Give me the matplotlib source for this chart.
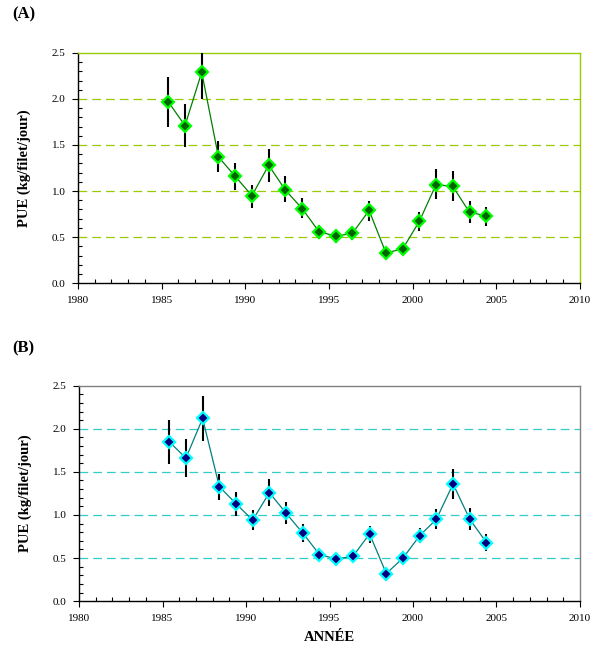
import matplotlib
matplotlib.use("Agg")
import matplotlib.pyplot as plt
import numpy as np
from matplotlib.ticker import MultipleLocator, FormatStrFormatter

plt.rcParams['font.family'] = ['Liberation Serif', 'DejaVu Serif']

# Data
years = np.arange(1985, 2005)

pue_a = [1.97, 1.71, 2.29, 1.37, 1.16, 0.95, 1.28, 1.01, 0.81, 0.56,
         0.51, 0.54, 0.79, 0.33, 0.37, 0.67, 1.07, 1.05, 0.77, 0.73]
low_a = [1.70, 1.48, 2.00, 1.21, 1.01, 0.82, 1.10, 0.88, 0.71, 0.48,
         0.44, 0.47, 0.68, 0.26, 0.31, 0.57, 0.91, 0.89, 0.65, 0.62]
high_a = [2.24, 1.94, 2.54, 1.54, 1.30, 1.07, 1.46, 1.16, 0.92, 0.63,
          0.57, 0.61, 0.89, 0.38, 0.43, 0.77, 1.24, 1.22, 0.89, 0.83]

pue_b = [1.85, 1.66, 2.12, 1.33, 1.13, 0.94, 1.26, 1.02, 0.79, 0.54,
         0.49, 0.52, 0.78, 0.32, 0.50, 0.76, 0.95, 1.36, 0.95, 0.68]
low_b = [1.59, 1.44, 1.86, 1.17, 0.99, 0.82, 1.10, 0.89, 0.69, 0.47,
         0.43, 0.46, 0.67, 0.27, 0.44, 0.67, 0.84, 1.18, 0.83, 0.58]
high_b = [2.10, 1.88, 2.38, 1.48, 1.27, 1.06, 1.42, 1.15, 0.89, 0.61,
          0.55, 0.59, 0.87, 0.375, 0.56, 0.85, 1.07, 1.53, 1.08, 0.78]

x_pos = years + 0.4  # points sit inside each year


def draw_panel(ax, pue, low, high, line_col, face_col, edge_col, grid_col, frame_col):
    pue = np.array(pue)
    yerr = [pue - np.array(low), np.array(high) - pue]
    ax.errorbar(x_pos, pue, yerr=yerr, fmt='none', ecolor='black',
                elinewidth=1.5, capsize=0, zorder=3)
    ax.plot(x_pos, pue, color=line_col, linewidth=0.9, marker='D',
            markersize=6.3, markerfacecolor=face_col, markeredgecolor=edge_col,
            markeredgewidth=1.6, zorder=4)

    for g in [0.5, 1.0, 1.5, 2.0]:
        ax.axhline(g, color=grid_col, linewidth=0.9, dashes=(7, 4), zorder=1)

    ax.set_xlim(1980, 2010)
    ax.set_ylim(0, 2.5)
    ax.xaxis.set_major_locator(MultipleLocator(5))
    ax.xaxis.set_minor_locator(MultipleLocator(1))
    ax.yaxis.set_major_locator(MultipleLocator(0.5))
    ax.yaxis.set_minor_locator(MultipleLocator(0.1))
    ax.yaxis.set_major_formatter(FormatStrFormatter('%.1f'))
    ax.tick_params(which='major', direction='out', length=4, width=0.8,
                   labelsize=8)
    ax.tick_params(axis='x', which='major', pad=5)
    ax.tick_params(axis='y', which='major', pad=5)
    ax.tick_params(which='minor', direction='in', length=3, width=0.8)

    for s in ['left', 'bottom']:
        ax.spines[s].set_color('black')
        ax.spines[s].set_linewidth(1.0)
    for s in ['top', 'right']:
        ax.spines[s].set_color(frame_col)
        ax.spines[s].set_linewidth(1.0)

    ax.set_ylabel('PUE (kg/filet/jour)', fontsize=10.5, fontweight='bold',
                  labelpad=15)


fig = plt.figure(figsize=(5.9, 6.45), dpi=100)

ax1 = fig.add_axes([0.132, 0.561, 0.851, 0.357])
draw_panel(ax1, pue_a, low_a, high_a, '#008000', '#006400', '#00FF00',
           '#99CC00', '#99CC00')

ax2 = fig.add_axes([0.134, 0.068, 0.849, 0.334])
draw_panel(ax2, pue_b, low_b, high_b, '#008080', '#000080', '#00FFFF',
           '#33CCCC', '#808080')
ax2.set_xlabel('ANNÉE', fontsize=10.5, fontweight='bold', labelpad=6)

fig.text(0.02, 0.977, '(A)', fontsize=12, fontweight='bold', va='center')
fig.text(0.02, 0.460, '(B)', fontsize=12, fontweight='bold', va='center')

fig.savefig('out.png', dpi=100)
